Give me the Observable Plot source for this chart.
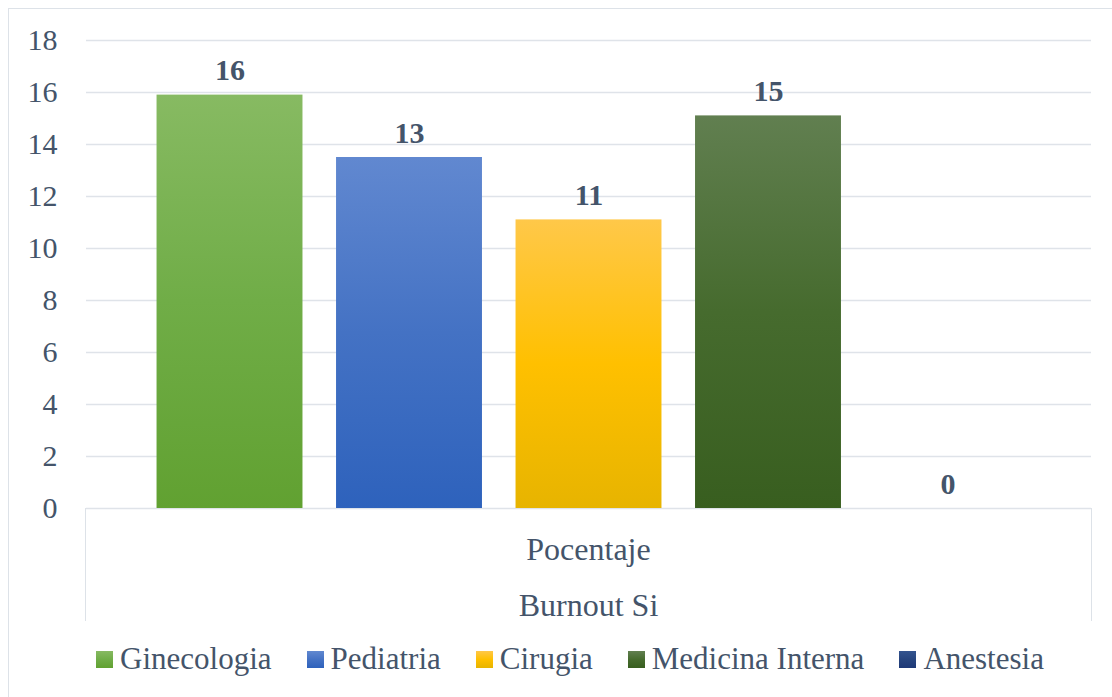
<!DOCTYPE html>
<html>
<head>
<meta charset="utf-8">
<script src="https://cdn.jsdelivr.net/npm/d3@7"></script>
<script src="https://cdn.jsdelivr.net/npm/@observablehq/plot@0.6"></script>
<style>
  html, body { margin: 0; padding: 0; background: #fff; }
  #wrap { position: relative; width: 1112px; height: 697px; overflow: hidden; background: #fff;
          font-family: "Liberation Serif", "Times New Roman", serif; color: #44546A; }
  #border { position: absolute; left: 8px; top: 8px; width: 1300px; height: 900px;
            border: 1.5px solid #DDE2E8; box-sizing: border-box; }
  #chart { position: absolute; left: 0; top: 0; }
  #axisbox { position: absolute; left: 85px; top: 508px; width: 1007px; height: 113px;
             border-left: 1.5px solid #DDE2E8; border-right: 1.5px solid #DDE2E8; box-sizing: border-box; }
  .grp { position: absolute; left: 0; right: 0; text-align: center; font-size: 32px; line-height: 1; }
  #legend { position: absolute; left: 8px; width: 1124px; top: 643px; display: flex; justify-content: center;
            align-items: center; font-size: 31px; line-height: 1; }
  .item { display: flex; align-items: center; margin: 0 17.5px; }
  .sw { width: 17px; height: 17px; margin-right: 7px; margin-top: 2px; }
</style>
</head>
<body>
<div id="wrap">
  <div id="border"></div>
  <div id="chart"></div>
  <div id="axisbox"></div>
  <div id="legend"></div>
</div>
<script>
const categories = ["Ginecologia", "Pediatria", "Cirugia", "Medicina Interna", "Anestesia"];
const values = [15.9, 13.5, 11.1, 15.1, 0];
const valueLabels = ["16", "13", "11", "15", "0"];
const yTicks = [0, 2, 4, 6, 8, 10, 12, 14, 16, 18];
const groupLabels = ["Pocentaje", "Burnout Si"];
const gradientStops = [
  ["#87BA62", "#70AD47", "#61A131"],
  ["#6188D0", "#4472C4", "#2E62BC"],
  ["#FFC849", "#FFC000", "#E7B400"],
  ["#617F50", "#466B2E", "#385E1F"],
  ["#34548F", "#27457F", "#1E3977"]
];

const data = categories.map((c, i) => ({category: c, value: values[i], label: valueLabels[i]}));
const gradIds = categories.map((c, i) => `grad${i}`);
const textColor = "#44546A";
const gridColor = "#DFE3E9";

const chart = Plot.plot({
  width: 1112,
  height: 520,
  marginTop: 40,
  marginBottom: 12,
  marginLeft: 86,
  marginRight: 21,
  style: {fontFamily: "'Liberation Serif', 'Times New Roman', serif", background: "transparent", overflow: "visible"},
  x: {domain: categories, paddingInner: 0.187, paddingOuter: 0.393, round: false, axis: null},
  y: {domain: [0, 18], ticks: yTicks, axis: null, label: null},
  color: {domain: categories, range: gradIds.map(id => `url(#${id})`)},
  marks: [
    Plot.gridY(yTicks, {stroke: gridColor, strokeOpacity: 1, strokeWidth: 1.6}),
    Plot.axisY(yTicks, {tickSize: 0, tickPadding: 29, fontSize: 30, fill: textColor, label: null,
                        tickFormat: d => String(d)}),
    Plot.barY(data, {x: "category", y: "value", fill: "category"}),
    Plot.text(data, {x: "category", y: "value", text: "label", lineAnchor: "bottom", dy: -15,
                     fontSize: 30, fontWeight: "bold", fill: textColor})
  ]
});

// gradients
const svg = d3.select(chart);
const defs = svg.insert("defs", ":first-child");
gradIds.forEach((id, i) => {
  const g = defs.append("linearGradient").attr("id", id).attr("x1", 0).attr("y1", 0).attr("x2", 0).attr("y2", 1);
  gradientStops[i].forEach((col, k) => {
    g.append("stop").attr("offset", `${k * 50}%`).attr("stop-color", col);
  });
});
document.getElementById("chart").appendChild(chart);

// multi-level category axis labels
const axisbox = document.getElementById("axisbox");
const groupTops = [25, 81];
groupLabels.forEach((t, i) => {
  const d = document.createElement("div");
  d.className = "grp";
  d.style.top = groupTops[i] + "px";
  d.textContent = t;
  axisbox.appendChild(d);
});

// legend
const legend = document.getElementById("legend");
categories.forEach((c, i) => {
  const it = document.createElement("div");
  it.className = "item";
  const sw = document.createElement("div");
  sw.className = "sw";
  sw.style.background = `linear-gradient(to bottom, ${gradientStops[i].join(", ")})`;
  const tx = document.createElement("span");
  tx.textContent = c;
  it.appendChild(sw);
  it.appendChild(tx);
  legend.appendChild(it);
});
</script>
</body>
</html>
